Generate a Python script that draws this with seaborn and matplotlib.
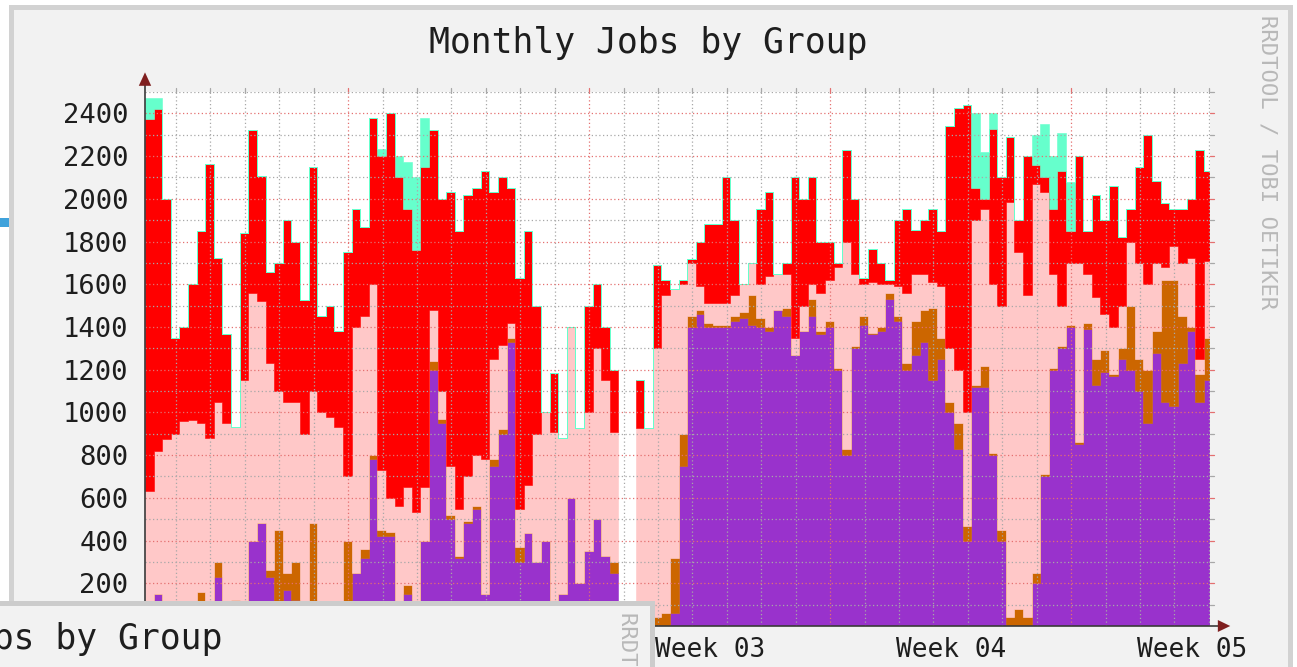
# Monthly Jobs by Group - RRDtool style stacked area chart
import numpy as np
import matplotlib.pyplot as plt
import seaborn as sns
from matplotlib.patches import Polygon, Rectangle

nan = np.nan

# one value per 6 hour step (stack tops, jobs)
purple_top = [
    0, 150, 0, 0, 0, 0, 100, 0, 230, 60,
    50, 50, 400, 480, 230, 20, 170, 120, 0, 0,
    0, 0, 0, 0, 250, 320, 780, 420, 420, 60,
    150, 0, 400, 1200, 950, 500, 320, 480, 550, 150,
    750, 900, 1330, 300, 436, 300, 400, 0, 150, 600,
    200, 350, 500, 330, 250, nan, nan, 0, 0, 0,
    0, 60, 750, 1400, 1460, 1400, 1400, 1400, 1430, 1440,
    1410, 1400, 1380, 1480, 1450, 1267, 1380, 1450, 1365, 1400,
    1200, 800, 1300, 1410, 1365, 1380, 1530, 1430, 1200, 1267,
    1330, 1150, 1250, 1000, 830, 400, 1120, 1120, 800, 400,
    0, 0, 0, 200, 700, 1200, 1300, 1400, 850, 1390,
    1130, 1190, 1170, 1250, 1200, 1100, 950, 1280, 1050, 1030,
    1230, 1380, 1050, 1150,
]
orange_top = [
    0, 150, 0, 0, 0, 0, 160, 0, 300, 60,
    120, 90, 400, 480, 260, 450, 250, 300, 80, 480,
    0, 0, 0, 400, 250, 360, 800, 450, 440, 80,
    190, 0, 400, 1240, 970, 520, 330, 490, 560, 150,
    780, 920, 1350, 370, 436, 300, 400, 0, 150, 600,
    200, 350, 500, 330, 300, nan, nan, 0, 0, 40,
    60, 320, 900, 1450, 1480, 1420, 1410, 1410, 1450, 1470,
    1550, 1440, 1400, 1480, 1490, 1270, 1380, 1530, 1380, 1430,
    1210, 830, 1310, 1450, 1370, 1400, 1560, 1450, 1230, 1430,
    1480, 1490, 1350, 1050, 950, 468, 1130, 1218, 810, 450,
    40, 80, 40, 250, 710, 1210, 1310, 1410, 860, 1420,
    1250, 1290, 1180, 1300, 1500, 1250, 1200, 1380, 1620, 1620,
    1450, 1400, 1180, 1350,
]
pink_top = [
    632, 820, 876, 900, 960, 966, 950, 880, 1050, 950,
    930, 1150, 1560, 1520, 1230, 1100, 1050, 1050, 900, 1100,
    1000, 980, 930, 700, 1400, 1450, 1600, 730, 600, 560,
    650, 533, 650, 1480, 1100, 750, 550, 700, 800, 780,
    1250, 1316, 1420, 550, 660, 900, 1000, 908, 880, 1400,
    925, 1000, 1300, 1153, 908, nan, nan, 925, 925, 1300,
    1550, 1580, 1600, 1700, 1590, 1510, 1510, 1510, 1550, 1600,
    1700, 1600, 1640, 1650, 1650, 1350, 1500, 1600, 1560, 1620,
    1680, 1800, 1650, 1600, 1610, 1600, 1600, 1590, 1560, 1650,
    1650, 1610, 1590, 1300, 1200, 1000, 1900, 1950, 1600, 1500,
    1985, 1750, 1550, 2070, 2030, 1650, 1500, 1700, 1700, 1650,
    1540, 1460, 1400, 1500, 1800, 1700, 1600, 1700, 1680, 1780,
    1700, 1725, 1250, 1707,
]
red_top = [
    2375, 2420, 2000, 1350, 1400, 1600, 1850, 2165, 1725, 1365,
    930, 1840, 2320, 2107, 1658, 1700, 1900, 1800, 1528, 2150,
    1450, 1500, 1380, 1750, 1950, 1870, 2380, 2200, 2400, 2100,
    1950, 1760, 2150, 2320, 2000, 2030, 1850, 2020, 2050, 2130,
    2030, 2100, 2050, 1630, 1850, 1500, 1000, 1185, 880, 1400,
    925, 1500, 1600, 1400, 1200, nan, nan, 1150, 925, 1690,
    1620, 1580, 1620, 1720, 1800, 1880, 1880, 2100, 1900, 1600,
    1700, 1950, 2030, 1650, 1700, 2100, 2000, 2100, 1800, 1800,
    1700, 2230, 2000, 1630, 1765, 1700, 1620, 1900, 1950, 1855,
    1900, 1950, 1850, 2340, 2424, 2440, 2050, 2000, 2327, 2100,
    2290, 1900, 2200, 2160, 2100, 1950, 2130, 1850, 2200, 1850,
    2020, 1900, 2060, 1820, 1950, 2150, 2300, 2082, 1980, 1950,
    1950, 2000, 2230, 2130,
]
# aqua group sits on top of the red one (extra jobs)
aqua_extra = [
    95, 50, 0, 0, 0, 0, 0, 0, 0, 0,
    0, 0, 0, 0, 0, 0, 0, 0, 0, 0,
    0, 0, 0, 0, 0, 0, 0, 35, 0, 100,
    220, 340, 230, 0, 0, 0, 0, 0, 0, 0,
    0, 0, 0, 0, 0, 0, 0, 0, 0, 0,
    0, 0, 0, 0, 0, nan, nan, 0, 0, 0,
    0, 0, 0, 0, 0, 0, 0, 0, 0, 0,
    0, 0, 0, 0, 0, 0, 0, 0, 0, 0,
    0, 0, 0, 0, 0, 0, 0, 0, 0, 0,
    0, 0, 0, 0, 0, 0, 350, 220, 73, 0,
    0, 0, 0, 140, 250, 250, 180, 230, 0, 0,
    0, 0, 0, 0, 0, 0, 0, 0, 0, 0,
    0, 0, 0, 0,
]
# only these week labels are visible, the earlier ones sit under the other window
week_labels = ["Week 03", "Week 04", "Week 05"]
first_label_week = 2     # Week 03 is the third week from the left edge
step_days = 0.25
first_week_start = 5.9   # days after the left edge

W, H = 1297, 667


def fx(px):
    return px / W


def fy(py):
    return 1 - py / H


def steps(vals):
    return np.repeat(np.asarray(vals, dtype=float), 2)


sns.set_style("white")
plt.rcParams["font.family"] = ["DejaVu Sans Mono", "DejaVu Sans"]

fig = plt.figure(figsize=(W / 100, H / 100), dpi=100)
fig.patch.set_facecolor("white")

# graph image frame
fig.patches.append(Rectangle((fx(11.5), fy(700)), fx(1289.5) - fx(11.5), fy(6.5) - fy(700),
                             transform=fig.transFigure, facecolor="#f2f2f2",
                             edgecolor="#d2d2d2", linewidth=3.6, zorder=-2))
fig.patches.append(Rectangle((0, fy(227)), fx(9), fy(218) - fy(227),
                             transform=fig.transFigure, facecolor="#3fa2db",
                             edgecolor="none", zorder=-2))

ax = fig.add_axes([fx(145), fy(626), fx(1210) - fx(145), (626 - 92) / H])
ax.set_facecolor("white")
for s in ax.spines.values():
    s.set_visible(False)

n = len(red_top)
edges = np.arange(n + 1) * step_days
xs = np.repeat(edges, 2)[1:-1]
purple = steps(purple_top)
orange = steps(orange_top)
pink = steps(pink_top)
red = steps(red_top)
aqua = red + steps(aqua_extra)
zero = np.where(np.isnan(purple), np.nan, 0.0)

layers = [(zero, purple, "#9932cc"), (purple, orange, "#cc6600"),
          (orange, pink, "#ffc8c8"), (pink, red, "#ff0000"),
          (red, aqua, "#66ffcc")]
for lo, hi, c in layers:
    ax.fill_between(xs, lo, hi, facecolor=c, edgecolor=c, linewidth=0.4, zorder=2)

# dotted grid drawn over the data like rrdtool does
dots = (0, (1, 2))
minor_c = "#a8a8a8"
major_c = "#e47070"
x_max = (1210 - 145) / 34.43
px_x = x_max / 1065       # one pixel in days
px_y = 2500 / 534         # one pixel in jobs
day = first_week_start - 5
while day < x_max:
    k = (day - first_week_start) / 7
    is_week = abs(k - round(k)) < 1e-6
    col = major_c if is_week else minor_c
    ax.axvline(day, color=col, linestyle=dots, linewidth=0.9, zorder=3)
    ax.plot([day, day], [2500, 2500 + 4 * px_y], color=col, linewidth=0.9,
            clip_on=False, zorder=3)
    day += 1
for v in range(100, 2600, 100):
    col = major_c if v % 200 == 0 else minor_c
    ax.axhline(v, color=col, linestyle=dots, linewidth=0.9, zorder=3)
    ax.plot([x_max, x_max + 4 * px_x], [v, v], color=col, linewidth=0.9,
            clip_on=False, zorder=3)

# axis lines with arrow heads
ax.plot([0, 0], [0, 2534], color="#3a3a3a", linewidth=1.2, clip_on=False, zorder=4)
ax.add_patch(Polygon([[-0.18, 2529], [0.18, 2529], [0, 2592]], closed=True,
                     facecolor="#7f1f1f", edgecolor="none", clip_on=False, zorder=4))
ax.plot([0, 31.16], [0, 0], color="#3a3a3a", linewidth=1.2, clip_on=False, zorder=4)
ax.add_patch(Polygon([[31.16, -28], [31.16, 28], [31.52, 0]], closed=True,
                     facecolor="#7f1f1f", edgecolor="none", clip_on=False, zorder=4))

ax.set_xlim(0, x_max)
ax.set_ylim(0, 2500)
ax.set_yticks(range(200, 2500, 200))
ax.set_yticklabels([str(v) for v in range(200, 2500, 200)])
week_centers = [first_week_start + 3.5 + 7 * (first_label_week - 1 + k)
                for k in range(len(week_labels))]
ax.set_xticks(week_centers)
ax.set_xticklabels(week_labels)
ax.tick_params(axis="y", length=0, pad=12, labelsize=19.5, colors="#1e1e1e")
ax.tick_params(axis="x", length=0, pad=8, labelsize=18.8, colors="#1e1e1e")
for lab in ax.get_xticklabels():
    lab.set_clip_on(False)

fig.text(fx(648), fy(53), "Monthly Jobs by Group", ha="center", va="baseline",
         fontsize=25, color="#1e1e1e")
fig.text(fx(1267), fy(15), "RRDTOOL / TOBI OETIKER", rotation=270, ha="center", va="top",
         fontsize=16, color="#b8b8b8")

# second graph window lying over the bottom left corner
fig.patches.append(Rectangle((fx(-10), fy(700)), fx(652) - fx(-10), fy(603) - fy(700),
                             transform=fig.transFigure, facecolor="#f2f2f2",
                             edgecolor="#cccccc", linewidth=3.6, zorder=5))
fig.text(fx(222), fy(649), "Monthly Jobs by Group", ha="right", va="baseline",
         fontsize=25, color="#1e1e1e", zorder=6)
fig.text(fx(628), fy(612), "RRDTOOL / TOBI OETIKER", rotation=270, ha="center", va="top",
         fontsize=16, color="#b8b8b8", zorder=6)

fig.savefig("out.png", dpi=100)
